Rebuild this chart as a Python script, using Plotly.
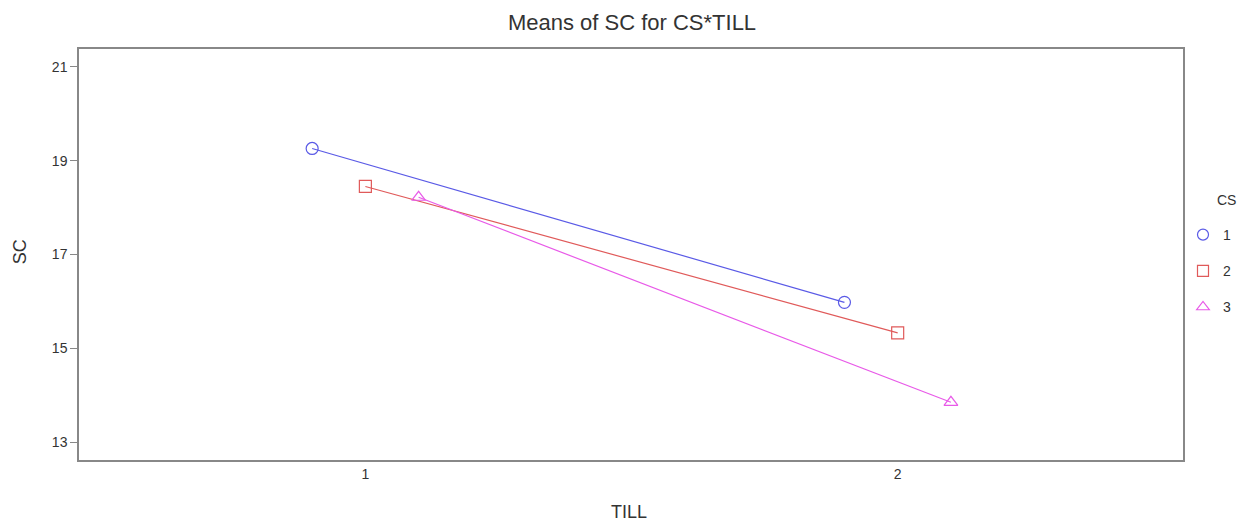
import plotly.graph_objects as go

till = [1, 2]
cs_levels = ["1", "2", "3"]
dodge = [-0.1, 0.0, 0.1]
sc_means = {
    "1": [19.26, 15.98],
    "2": [18.45, 15.33],
    "3": [18.22, 13.85],
}
colors = ["#5a5ae6", "#e05a5a", "#e85ae8"]
symbols = ["circle-open", "square-open", "triangle-up-open"]

FONT = "Arial, Liberation Sans, Helvetica"
TXT = "#333333"

# page body has an 8px margin, so the figure is sized to fit the window
W, H = 1243, 515
L, R, T, B = 71, 61, 41, 63
PW, PH = W - L - R, H - T - B

fig = go.Figure()
for cs, d, c, s in zip(cs_levels, dodge, colors, symbols):
    fig.add_trace(go.Scatter(
        x=[t + d for t in till], y=sc_means[cs], mode="lines+markers", name=cs,
        line=dict(color=c, width=1.2), showlegend=False,
        marker=dict(symbol=s, size=12, color=c, line=dict(width=1.2, color=c)),
    ))
    # legend entry showing the marker only
    fig.add_trace(go.Scatter(
        x=[None], y=[None], mode="markers", name=cs, legendgroup=cs,
        marker=dict(symbol=s, size=11, color=c, line=dict(width=1.2, color=c)),
    ))

axis_common = dict(showline=True, linecolor="#888888", linewidth=1.5, mirror=True,
                   showgrid=False, zeroline=False, automargin=False,
                   tickfont=dict(family=FONT, size=14, color=TXT))

fig.update_layout(
    width=W, height=H,
    margin=dict(l=L, r=R, t=T, b=B),
    paper_bgcolor="white", plot_bgcolor="white",
    title=dict(text="Means of SC for CS*TILL", x=624 / W, xanchor="center",
               y=1 - 14 / H, yanchor="middle", automargin=False,
               font=dict(family=FONT, size=22, color=TXT)),
    xaxis=dict(range=[0.462, 2.536], tickvals=till, ticktext=[str(t) for t in till],
               ticks="", **axis_common),
    yaxis=dict(range=[12.62, 21.38], tickvals=[13, 15, 17, 19, 21], ticks="outside", ticklen=7,
               tickcolor="#888888", **axis_common),
    legend=dict(xref="container", yref="container", x=1175 / W, y=1 - 211 / H,
                xanchor="left", yanchor="top",
                font=dict(family=FONT, size=14, color=TXT),
                tracegroupgap=15, itemwidth=30, bgcolor="rgba(0,0,0,0)"),
    annotations=[
        dict(text="CS", xref="paper", yref="paper",
             x=(1214 - L) / PW, y=(H - B - 192) / PH,
             xanchor="left", yanchor="middle", showarrow=False,
             font=dict(family=FONT, size=14, color=TXT)),
        dict(text="TILL", xref="paper", yref="paper",
             x=(624 - L) / PW, y=(H - B - 504) / PH,
             xanchor="center", yanchor="middle", showarrow=False,
             font=dict(family=FONT, size=18, color=TXT)),
        dict(text="SC", xref="paper", yref="paper", textangle=-90,
             x=(12 - L) / PW, y=(H - B - 244) / PH,
             xanchor="center", yanchor="middle", showarrow=False,
             font=dict(family=FONT, size=18, color=TXT)),
    ],
)

fig.write_html("out.html")
